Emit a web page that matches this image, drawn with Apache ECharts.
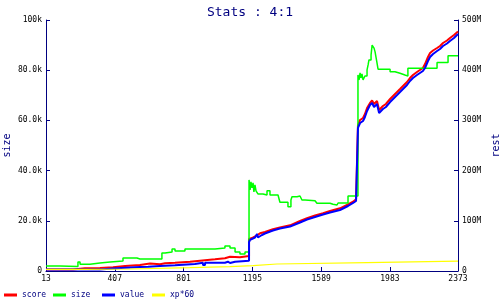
<!DOCTYPE html>
<html>
<head>
<meta charset="utf-8">
<script src="https://cdn.jsdelivr.net/npm/echarts@6/dist/echarts.min.js"></script>
<style>html,body{margin:0;padding:0;background:#fff}#c{width:500px;height:300px}</style>
</head>
<body>
<div id="c"></div>
<script>
// x tick labels
var xTicks = [13, 407, 801, 1195, 1589, 1983, 2373];
// size (left axis, thousands) - step line
var sizeX = [13,93,196,208,265,322,380,454,534,551,677,695,735,752,809,981,1038,1067,1096,1124,1153,1176,1182,1187,1193,1199,1204,1210,1216,1227,1256,1279,1296,1342,1353,1399,1416,1422,1451,1468,1479,1497,1554,1565,1640,1657,1680,1686,1743,1800,1806,1812,1817,1823,1829,1840,1852,1858,1863,1875,1881,1892,1898,1903,1909,1915,1984,2012,2041,2069,2086,2253,2316,2373];
var sizeV = [2.0,1.8,3.6,2.7,3.2,3.6,4.0,5.2,4.8,4.8,7.2,7.6,8.8,8.0,8.8,9.2,10.0,9.2,7.6,6.8,7.6,36.3,32.3,35.5,33.1,35.1,31.5,34.3,31.9,30.7,30.3,32.0,30.3,29.6,27.4,25.6,28.3,29.6,29.9,30.3,28.3,28.0,28.3,27.0,26.6,26.3,25.6,27.1,29.9,78.1,76.1,78.9,76.9,78.5,76.1,77.7,80.1,82.1,84.1,86.1,90.0,88.8,87.3,85.3,82.9,80.4,79.4,78.8,78.1,77.7,80.8,83.1,85.8,85.8];
// score (right axis, millions) - polyline with step corners
var scoreX = [13,168,168,236,236,322,322,397,397,466,466,551,551,609,609,666,666,695,695,752,752,838,838,895,895,981,981,1038,1038,1067,1067,1124,1124,1176,1176,1193,1210,1239,1267,1313,1353,1411,1468,1508,1554,1600,1640,1697,1743,1772,1789,1800,1800,1812,1829,1840,1852,1869,1881,1892,1909,1921,1943,1960,1984,2001,2024,2041,2058,2081,2098,2115,2138,2155,2172,2184,2201,2213,2230,2253,2270,2287,2310,2327,2350,2373];
var scoreV = [3.0,3.0,5.4,5.4,6.0,6.0,7.4,7.4,10.0,10.0,12.0,12.0,14.9,14.9,13.3,13.3,15.3,15.3,16.5,16.5,18.5,18.5,20.5,20.5,23.3,23.3,25.3,25.3,28.5,28.5,27.3,27.3,29.9,29.9,63.7,65.7,68.7,75.1,77.7,83.1,86.7,91.0,99.6,105.0,110.6,114.9,119.5,124.9,132.5,138.0,142.8,142.8,290.8,300.8,304.8,312.7,324.7,334.7,339.6,332.7,338.6,320.7,328.7,332.7,342.6,348.6,356.6,362.5,368.5,376.5,384.5,390.4,396.4,400.4,404.4,412.3,426.3,434.3,439.2,444.2,448.2,454.2,459.2,464.1,470.1,477.1];
// value (right axis, millions) - polyline with step corners
var valueX = [13,322,322,397,397,466,466,551,551,597,597,666,666,752,752,866,866,912,912,924,924,1038,1038,1055,1055,1067,1067,1096,1096,1176,1176,1182,1193,1210,1222,1227,1250,1267,1313,1353,1411,1468,1508,1554,1600,1640,1697,1743,1772,1789,1800,1800,1812,1829,1840,1852,1869,1881,1892,1909,1921,1943,1960,1984,2001,2024,2041,2058,2081,2098,2115,2138,2155,2172,2184,2201,2213,2230,2253,2270,2287,2310,2327,2350,2373];
var valueV = [3.0,3.0,5.0,5.0,6.6,6.6,8.0,8.0,8.6,8.6,10.0,10.0,11.4,11.4,13.9,13.9,16.5,16.5,12.0,12.0,16.5,16.5,18.5,18.5,15.9,15.9,18.5,18.5,20.5,20.5,57.8,61.8,64.7,66.7,73.7,66.7,71.7,74.7,80.7,84.7,88.6,96.6,102.6,107.6,112.5,116.5,121.5,129.5,135.5,139.4,139.4,284.9,294.8,298.8,306.8,318.7,330.7,334.7,326.7,332.7,314.7,322.7,326.7,336.6,342.6,350.6,356.6,362.5,370.5,378.5,384.5,390.4,394.4,398.4,404.4,418.3,426.3,432.3,438.2,442.2,448.2,453.2,458.2,464.1,472.1];
// xp*60 (right axis, millions) - step line
var xpX = [13,236,494,838,1067,1199,1336,1852,2373];
var xpV = [3.4,4.0,6.6,8.6,10.6,13.9,16.5,19.5,19.5];

function zip(a, b) { return a.map(function (v, i) { return [v, b[i]]; }); }

var NAVY = '#000080';
var FONT = 'DejaVu Sans Mono';
var chart = echarts.init(document.getElementById('c'), null, {renderer: 'canvas'});

function legendAt(name, left) {
  return {
    data: [name], left: left, top: 291, icon: 'rect', itemWidth: 13, itemHeight: 3,
    selectedMode: false, padding: 0,
    textStyle: {color: NAVY, fontFamily: FONT, fontSize: 8}
  };
}

function yAxisCfg(name, pos, max, interval, gap, fmt) {
  return {
    type: 'value', position: pos, min: 0, max: max, interval: interval,
    name: name, nameLocation: 'middle', nameGap: gap, nameRotate: 90, nameMoveOverlap: false,
    nameTextStyle: {color: NAVY, fontFamily: FONT, fontSize: 10},
    axisLine: {show: true, lineStyle: {color: NAVY, width: 1}},
    axisTick: {show: true, inside: true, length: 4, lineStyle: {color: NAVY}},
    axisLabel: {color: '#000', fontFamily: FONT, fontSize: 8, margin: 4, formatter: fmt},
    splitLine: {show: false}
  };
}

chart.setOption({
  animation: false,
  backgroundColor: '#fff',
  title: {
    text: 'Stats : 4:1', left: 'center', top: 1,
    textStyle: {color: NAVY, fontFamily: FONT, fontSize: 13, fontWeight: 'normal'}
  },
  legend: [legendAt('score', 4), legendAt('size', 53), legendAt('value', 102), legendAt('xp*60', 152)],
  grid: {left: 46, right: 42, top: 20, bottom: 29, containLabel: false, outerBoundsMode: 'none'},
  xAxis: {
    type: 'value', min: 13, max: 2373,
    axisLine: {show: true, onZero: false, lineStyle: {color: NAVY, width: 1}},
    axisTick: {show: true, inside: true, length: 4, customValues: xTicks, lineStyle: {color: NAVY}},
    axisLabel: {color: '#000', fontFamily: FONT, fontSize: 8, margin: 4, customValues: xTicks, showMinLabel: true, showMaxLabel: true, formatter: function (v) { return String(v); }},
    splitLine: {show: false}
  },
  yAxis: [
    yAxisCfg('size', 'left', 100, 20, 34, function (v) { return v === 0 ? '0' : (v >= 100 ? v.toFixed(0) + 'k' : v.toFixed(1) + 'k'); }),
    yAxisCfg('rest', 'right', 500, 100, 33, function (v) { return v === 0 ? '0' : v + 'M'; })
  ],
  series: [
    {name: 'score', type: 'line', yAxisIndex: 1, showSymbol: false, color: '#ff0000', lineStyle: {width: 2}, data: zip(scoreX, scoreV)},
    {name: 'size', type: 'line', step: 'end', yAxisIndex: 0, showSymbol: false, color: '#00ff00', lineStyle: {width: 1.5}, data: zip(sizeX, sizeV)},
    {name: 'value', type: 'line', yAxisIndex: 1, showSymbol: false, color: '#0000ff', lineStyle: {width: 2}, data: zip(valueX, valueV)},
    {name: 'xp*60', type: 'line', step: 'end', yAxisIndex: 1, showSymbol: false, color: '#ffff00', lineStyle: {width: 1.2}, data: zip(xpX, xpV)}
  ]
});
</script>
</body>
</html>
